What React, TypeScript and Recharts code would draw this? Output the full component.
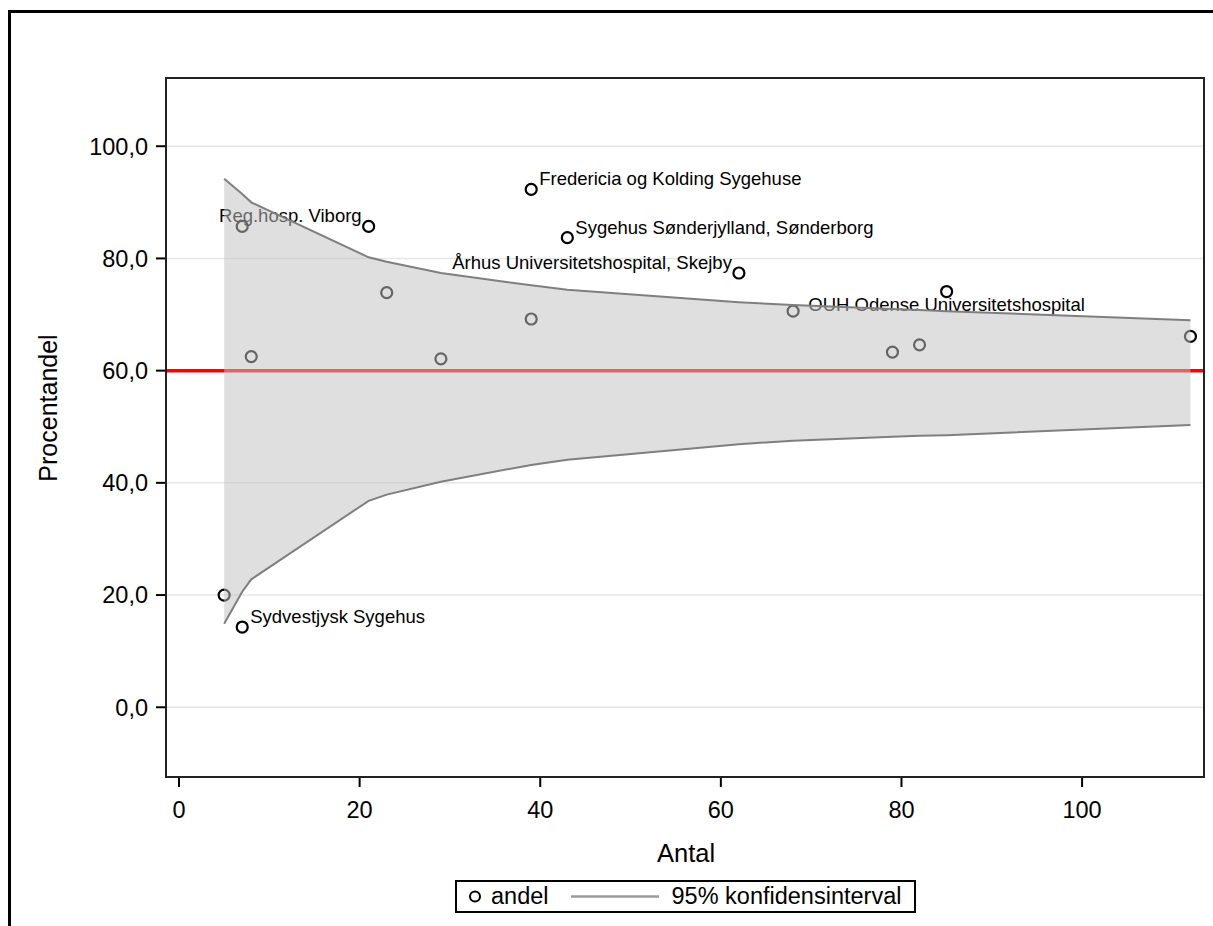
import React from "react"
import {
  Area,
  CartesianGrid,
  ComposedChart,
  Label,
  Line,
  ReferenceArea,
  ReferenceLine,
  Scatter,
  XAxis,
  YAxis,
} from "recharts"

const FONT = "'Liberation Sans', Arial, sans-serif"

// konfidensgrænser (95%) pr. antal
const ciN = [5, 7, 8, 21, 23, 29, 39, 43, 62, 68, 79, 82, 85, 112]
const ciUpper = [94.2, 91.5, 90.0, 80.2, 79.4, 77.4, 75.2, 74.4, 72.2, 71.7, 71.0, 70.8, 70.6, 69.0]
const ciLower = [14.9, 20.6, 22.8, 36.8, 37.9, 40.2, 43.2, 44.1, 46.9, 47.5, 48.2, 48.4, 48.5, 50.3]

// afdelinger
const pointN = [5, 7, 7, 8, 21, 23, 29, 39, 39, 43, 62, 68, 79, 82, 85, 112]
const pointPct = [20.0, 14.3, 85.7, 62.5, 85.7, 73.9, 62.1, 92.3, 69.2, 83.7, 77.4, 70.6, 63.3, 64.6, 74.1, 66.1]
const pointName = [
  "",
  "Sydvestjysk Sygehus",
  "",
  "",
  "Reg.hosp. Viborg",
  "",
  "",
  "Fredericia og Kolding Sygehuse",
  "",
  "Sygehus Sønderjylland, Sønderborg",
  "Århus Universitetshospital, Skejby",
  "",
  "",
  "",
  "OUH Odense Universitetshospital",
  "",
]

const xTicks = [0, 20, 40, 60, 80, 100]
const yTicks = [0, 20, 40, 60, 80, 100]
const target = 60

const xDomain: [number, number] = [-1.44, 113.5]
const yDomain: [number, number] = [-12.43, 112.16]

// where each label sits relative to its point
const labelSide: Record<string, "ne" | "nw" | "s"> = {
  "Sydvestjysk Sygehus": "ne",
  "Reg.hosp. Viborg": "nw",
  "Fredericia og Kolding Sygehuse": "ne",
  "Sygehus Sønderjylland, Sønderborg": "ne",
  "Århus Universitetshospital, Skejby": "nw",
  "OUH Odense Universitetshospital": "s",
}

const ciData = ciN.map((n, i) => ({
  n,
  upper: ciUpper[i],
  lower: ciLower[i],
  band: [ciLower[i], ciUpper[i]],
}))

const points = pointN.map((n, i) => ({ n, pct: pointPct[i], name: pointName[i] }))

function PointShape(props: any) {
  const { cx, cy, payload } = props
  const name: string = payload?.name ?? ""
  const side = labelSide[name]
  let label = null
  if (name) {
    const common = { fontSize: 18.5, fontFamily: FONT, fill: "#000" }
    if (side === "ne") {
      label = (
        <text x={cx + 8} y={cy - 4} textAnchor="start" {...common}>
          {name}
        </text>
      )
    } else if (side === "nw") {
      label = (
        <text x={cx - 7} y={cy - 4} textAnchor="end" {...common}>
          {name}
        </text>
      )
    } else {
      label = (
        <text x={cx} y={cy + 19} textAnchor="middle" {...common}>
          {name}
        </text>
      )
    }
  }
  return (
    <g>
      <circle cx={cx} cy={cy} r={5.5} fill="none" stroke="#000" strokeWidth={2.2} />
      {label}
    </g>
  )
}

function LegendBox() {
  return (
    <div
      style={{
        position: "absolute",
        left: 455,
        top: 880,
        width: 457,
        height: 29,
        border: "2px solid #000",
        fontFamily: FONT,
        fontSize: 23.5,
        color: "#000",
        display: "flex",
        alignItems: "center",
        background: "#fff",
      }}
    >
      <svg width={30} height={29} style={{ marginLeft: 4 }}>
        <circle cx={14} cy={14.5} r={5} fill="none" stroke="#000" strokeWidth={2} />
      </svg>
      <span style={{ marginLeft: 0 }}>andel</span>
      <svg width={90} height={29} style={{ marginLeft: 22 }}>
        <line x1={0} x2={88} y1={14.5} y2={14.5} stroke="#9a9a9a" strokeWidth={2.5} />
      </svg>
      <span style={{ marginLeft: 11 }}>95% konfidensinterval</span>
    </div>
  )
}

export default function App() {
  const tickStyle = { fill: "#000", fontSize: 23.5, fontFamily: FONT }
  return (
    <div
      style={{
        position: "absolute",
        left: 0,
        top: 0,
        width: 1213,
        height: 926,
        overflow: "hidden",
        background: "#fff",
      }}
    >
      <div
        style={{
          position: "absolute",
          left: 8,
          top: 10,
          width: 1300,
          height: 1000,
          borderLeft: "3px solid #000",
          borderTop: "3px solid #000",
        }}
      />
      <ComposedChart
        width={1213}
        height={926}
        data={ciData}
        margin={{ top: 78, right: 9, bottom: 0, left: 0 }}
        style={{ position: "absolute", left: 0, top: 0 }}
      >
        <CartesianGrid vertical={false} stroke="#e6e6e6" strokeWidth={1.5} />
        <XAxis
          dataKey="n"
          type="number"
          domain={xDomain}
          ticks={xTicks}
          allowDataOverflow
          height={149}
          axisLine={false}
          tickSize={10}
          tickMargin={14}
          tickLine={{ stroke: "#000", strokeWidth: 2 }}
          tick={tickStyle}
          fontSize={23.5}
        >
          <Label
            content={(p: any) => {
              const vb = p.viewBox || { x: 166, y: 777, width: 1038 }
              return (
                <text
                  x={vb.x + vb.width / 2 + 1}
                  y={vb.y + 85}
                  textAnchor="middle"
                  fontSize={25.5}
                  fontFamily={FONT}
                  fill="#000"
                >
                  Antal
                </text>
              )
            }}
          />
        </XAxis>
        <YAxis
          type="number"
          domain={yDomain}
          ticks={yTicks}
          allowDataOverflow
          width={166}
          axisLine={false}
          tickSize={10}
          tickMargin={8}
          tickLine={{ stroke: "#000", strokeWidth: 2 }}
          tick={tickStyle}
          fontSize={23.5}
          tickFormatter={(v: number) => v.toFixed(1).replace(".", ",")}
        >
          <Label
            content={() => (
              <text
                x={57}
                y={408}
                transform="rotate(-90, 57, 408)"
                textAnchor="middle"
                fontSize={25}
                fontFamily={FONT}
                fill="#000"
              >
                Procentandel
              </text>
            )}
          />
        </YAxis>
        <ReferenceLine y={target} stroke="#ff0000" strokeWidth={3.5} zIndex={450} />
        <Scatter
          data={points}
          dataKey="pct"
          shape={PointShape}
          isAnimationActive={false}
          zIndex={600}
        />
        <Area
          type="linear"
          dataKey="band"
          stroke="none"
          fill="#c2c2c2"
          fillOpacity={0.52}
          isAnimationActive={false}
          zIndex={700}
        />
        <Line
          type="linear"
          dataKey="upper"
          stroke="#7f7f7f"
          strokeWidth={2}
          dot={false}
          activeDot={false}
          isAnimationActive={false}
          zIndex={800}
        />
        <Line
          type="linear"
          dataKey="lower"
          stroke="#7f7f7f"
          strokeWidth={2}
          dot={false}
          activeDot={false}
          isAnimationActive={false}
          zIndex={800}
        />
        <ReferenceArea
          x1={xDomain[0]}
          x2={xDomain[1]}
          y1={yDomain[0]}
          y2={yDomain[1]}
          fill="none"
          stroke="#222"
          strokeWidth={2}
          ifOverflow="visible"
          zIndex={900}
        />
      </ComposedChart>
      <LegendBox />
    </div>
  )
}
